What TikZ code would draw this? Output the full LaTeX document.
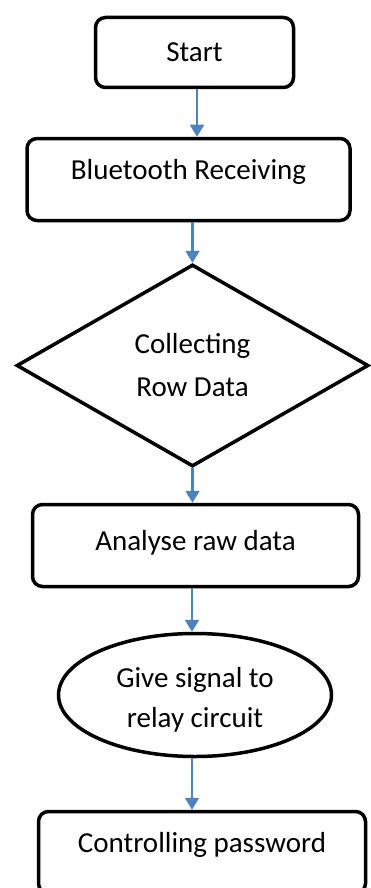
\documentclass[tikz,border=0pt]{standalone}
\usepackage{fontspec}
\setmainfont{Carlito}
\usetikzlibrary{shapes.geometric,arrows.meta}
\definecolor{arrowblue}{RGB}{79,129,189}
\newcommand{\lowr}[1]{\raisebox{-5pt}[\height][\depth]{#1}}
\begin{document}
\begin{tikzpicture}[x=1pt,y=-1pt,
  box/.style={draw=black, line width=3.5pt, rounded corners=10pt, fill=white, inner sep=0pt, text height=19pt, font=\fontsize{29}{35}\selectfont},
  dia/.style={diamond, draw=black, line width=3.5pt, fill=white, inner sep=0pt, align=center, font=\fontsize{29}{43}\selectfont},
  ell/.style={ellipse, draw=black, line width=3.5pt, fill=white, inner sep=0pt, align=center, font=\fontsize{29}{40}\selectfont},
  arr/.style={draw=arrowblue, line width=2.2pt, -{Triangle[width=14pt,length=12pt]}}]
\clip (0,0) rectangle (371,888);
\fill[white] (0,0) rectangle (371,888);
\node[box, minimum width=198pt, minimum height=70pt, text depth=0.3pt] (start) at (194.5,52.5) {Start};
\node[box, minimum width=323pt, minimum height=82pt, text depth=19.3pt] (bt) at (188.5,179.5) {Bluetooth Receiving};
\node[dia, minimum width=352pt, minimum height=202pt] (col) at (192.5,365.5) {Collecting\\Row Data};
\node[box, minimum width=326pt, minimum height=82pt, text depth=9.3pt] (ana) at (195.5,545.5) {Analyse raw data};
\node[ell, minimum width=273pt, minimum height=123pt] (sig) at (195,695) {\lowr{Give signal to}\\\lowr{relay circuit}};
\node[box, minimum width=327pt, minimum height=82pt, text depth=18.3pt] (ctl) at (202,852.5) {Controlling password};
\draw[arr] ([xshift=2.5pt]start.south) -- ([xshift=8.5pt]bt.north);
\draw[arr] ([xshift=4pt]bt.south) -- (col.north);
\draw[arr] (col.south) -- ([xshift=-3pt]ana.north);
\draw[arr] ([xshift=-3.5pt]ana.south) -- ([xshift=-3pt]sig.north);
\draw[arr] ([xshift=-3pt]sig.south) -- ([xshift=-10pt]ctl.north);
\end{tikzpicture}
\end{document}
